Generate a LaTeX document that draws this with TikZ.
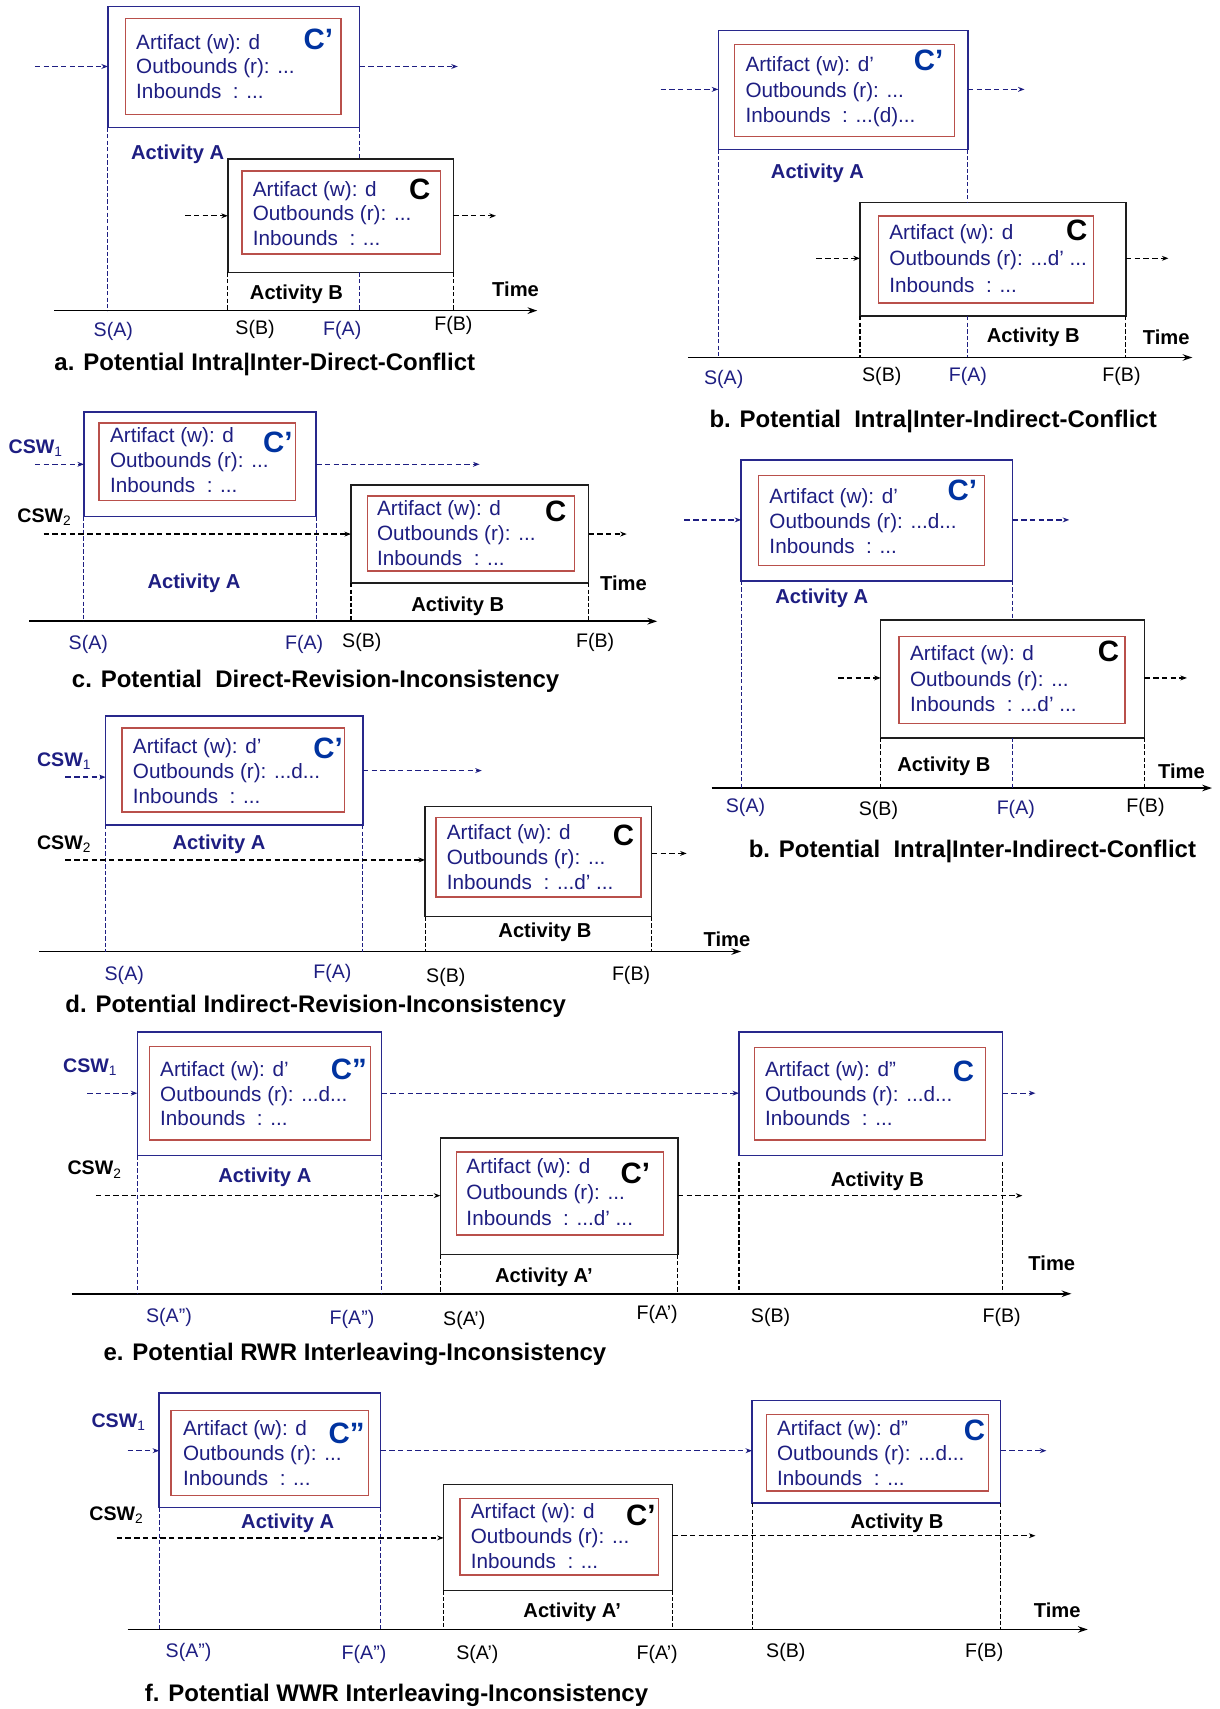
\documentclass[tikz,border=0pt]{standalone}
\usepackage{fontspec}
\setmainfont{Liberation Sans}
\usetikzlibrary{arrows.meta}
\definecolor{navy}{RGB}{30,30,130}
\definecolor{cblue}{RGB}{0,51,160}
\definecolor{boxblue}{RGB}{40,40,140}
\definecolor{boxred}{RGB}{185,80,75}
\definecolor{boxgray}{RGB}{30,30,30}
\newcommand\bx[6]{\node[#6, anchor=north west, minimum width=#4-#2, minimum height=#5-#3] (#1) at (#2,#3) {};}
\newcommand\arttxt[7]{%
  \node[arttext, anchor=base west] (#1-1) at (#2,{#3+7}) {#5};
  \node[arttext, anchor=base west] (#1-2) at (#2,{#3+#4+7}) {#6};
  \node[arttext, anchor=base west] (#1-3) at (#2,{#3+2*#4+7}) {#7};}
\newcommand\lab[5]{\node[#2, anchor=base] (#1) at (#3,{#4+7}) {#5};}
\newcommand\lft[5]{\node[#2, anchor=base west] (#1) at (#3,{#4+7}) {#5};}
\tikzset{
  every node/.style={inner sep=0pt, outer sep=0pt},
  boxA/.style={draw=boxblue, line width=1.3pt, fill=white},
  boxB/.style={draw=boxgray, line width=1.3pt, fill=white},
  redbox/.style={draw=boxred, line width=1.3pt},
  arttext/.style={text=navy, font=\fontsize{19}{23}\selectfont},
  cbig/.style={font=\bfseries\fontsize{27}{30}\selectfont},
  actA/.style={text=navy, font=\bfseries\fontsize{18.5}{22}\selectfont},
  actB/.style={text=black, font=\bfseries\fontsize{18.5}{22}\selectfont},
  axA/.style={text=navy, font=\fontsize{18}{22}\selectfont},
  axB/.style={text=black, font=\fontsize{18}{22}\selectfont},
  caption/.style={text=black, font=\bfseries\fontsize{22}{26}\selectfont},
  cswA/.style={text=navy, font=\bfseries\fontsize{18}{22}\selectfont},
  cswB/.style={text=black, font=\bfseries\fontsize{18}{22}\selectfont},
  arrA/.style={draw=navy, line width=1.2pt, dash pattern=on 5pt off 3pt, -{Stealth[length=6pt,width=4.5pt]}},
  arrB/.style={draw=black, line width=1.2pt, dash pattern=on 5pt off 3pt, -{Stealth[length=6pt,width=4.5pt]}},
  vA/.style={draw=navy, line width=1pt, dash pattern=on 4pt off 2pt},
  vB/.style={draw=black, line width=1pt, dash pattern=on 4pt off 2pt},
  timeaxis/.style={draw=black, line width=1.5pt, -{Stealth[length=9pt,width=6pt]}},
}
\newcommand\sub[1]{\textsubscript{\mdseries #1}}
\begin{document}
\begin{tikzpicture}[x=1pt,y=-1pt]
\useasboundingbox[fill=white] (0,0) rectangle (1119,1568);

% ================= panel a =================
\coordinate (ax0) at (50,285); \coordinate (ax1) at (493,285);
\draw[timeaxis] (ax0) -- (ax1);
\bx{aA}{99}{6}{330}{117}{boxA}
\bx{aAr}{115}{17}{313}{105}{redbox}
\arttxt{aAt}{125}{38}{22.5}{Artifact (w): d}{Outbounds (r): ...}{Inbounds\ \ : ...}
\node[cbig, text=cblue] (aAc) at (292,36) {C’};
\bx{aB}{209}{146}{416}{250}{boxB}
\bx{aBr}{222}{157}{404}{233}{redbox}
\arttxt{aBt}{232}{173}{22.5}{Artifact (w): d}{Outbounds (r): ...}{Inbounds\ \ : ...}
\node[cbig, text=black] (aBc) at (385,174) {C};
\coordinate (aa1) at (32,61); \coordinate (aa2) at (420,61);
\coordinate (ab1) at (170,198); \coordinate (ab2) at (455,198);
\draw[arrA] (aa1) -- (aa1 -| aA.west);
\draw[arrA] (aa2 -| aA.east) -- (aa2);
\draw[arrB] (ab1) -- (ab1 -| aB.west);
\draw[arrB] (ab2 -| aB.east) -- (ab2);
\draw[vA] (aA.south west) -- (aA.south west |- ax0);
\draw[vA] (aA.south east) -- (aA.south east |- aB.north);
\draw[vA] (aA.south east |- aB.south) -- (aA.south east |- ax0);
\draw[vB] (aB.south west) -- (aB.south west |- ax0);
\draw[vB] (aB.south east) -- (aB.south east |- ax0);
\lab{aActA}{actA}{163}{139}{Activity A}
\lab{aActB}{actB}{272}{268}{Activity B}
\lab{aTime}{actB}{473}{265}{Time}
\lab{aSA}{axA}{104}{302}{S(A)}
\lab{aSB}{axB}{234}{300}{S(B)}
\lab{aFA}{axA}{314}{301}{F(A)}
\lab{aFB}{axB}{416}{296}{F(B)}
\lft{aCap}{caption}{50}{333}{a. Potential Intra|Inter-Direct-Conflict}

% ================= panel b =================
\coordinate (bx0) at (631,328); \coordinate (bx1) at (1094,328);
\draw[timeaxis] (bx0) -- (bx1);
\bx{bA}{659}{28}{888}{137}{boxA}
\bx{bAr}{674}{41}{876}{125}{redbox}
\arttxt{bAt}{684}{59}{23}{Artifact (w): d’}{Outbounds (r): ...}{Inbounds\ \ : ...(d)...}
\node[cbig, text=cblue] (bAc) at (852,55) {C’};
\bx{bB}{789}{186}{1033}{290}{boxB}
\bx{bBr}{806}{198}{1003}{278}{redbox}
\arttxt{bBt}{816}{213}{24}{Artifact (w): d}{Outbounds (r): ...d’ ...}{Inbounds\ \ : ...}
\node[cbig, text=black] (bBc) at (988,211) {C};
\coordinate (ba1) at (606,82); \coordinate (ba2) at (940,82);
\coordinate (bb1) at (749,237); \coordinate (bb2) at (1072,237);
\draw[arrA] (ba1) -- (ba1 -| bA.west);
\draw[arrA] (ba2 -| bA.east) -- (ba2);
\draw[arrB] (bb1) -- (bb1 -| bB.west);
\draw[arrB] (bb2 -| bB.east) -- (bb2);
\draw[vA] (bA.south west) -- (bA.south west |- bx0);
\draw[vA] (bA.south east) -- (bA.south east |- bB.north);
\draw[vA] (bA.south east |- bB.south) -- (bA.south east |- bx0);
\draw[vB] (bB.south west) -- (bB.south west |- bx0);
\draw[vB] (bB.south east) -- (bB.south east |- bx0);
\lab{bActA}{actA}{750}{157}{Activity A}
\lab{bActB}{actB}{948}{307}{Activity B}
\lab{bTime}{actB}{1070}{309}{Time}
\lab{bSA}{axA}{664}{346}{S(A)}
\lab{bSB}{axB}{809}{343}{S(B)}
\lab{bFA}{axA}{888}{343}{F(A)}
\lab{bFB}{axB}{1029}{343}{F(B)}
\lft{bCap}{caption}{651}{385}{b. Potential\ \ Intra|Inter-Indirect-Conflict}

% ================= panel c =================
\coordinate (cx0) at (27,570); \coordinate (cx1) at (603,570);
\draw[timeaxis] (cx0) -- (cx1);
\coordinate (ca1) at (32,426); \coordinate (ca2) at (440,426);
\coordinate (cb1) at (40,490); \coordinate (cb2) at (575,490);
\bx{cA}{77}{378}{290}{474}{boxA}
\draw[vA] (cA.south west) -- (cA.south west |- cx0);
\draw[vA] (cA.south east) -- (cA.south east |- cx0);
\bx{cAr}{91}{388}{271}{459}{redbox}
\arttxt{cAt}{101}{399}{23}{Artifact (w): d}{Outbounds (r): ...}{Inbounds\ \ : ...}
\node[cbig, text=cblue] (cAc) at (255,406) {C’};
\bx{cB}{322}{445}{540}{535}{boxB}
\bx{cBr}{337}{455}{527}{524}{redbox}
\arttxt{cBt}{346}{466}{23}{Artifact (w): d}{Outbounds (r): ...}{Inbounds\ \ : ...}
\node[cbig, text=black] (cBc) at (510,469) {C};
\draw[arrA] (ca1) -- (ca1 -| cA.west);
\draw[arrA] (ca2 -| cA.east) -- (ca2);
\draw[arrB] (cb1) -- (cb1 -| cB.west);
\draw[arrB] (cb2 -| cB.east) -- (cb2);
\draw[vB] (cB.south west) -- (cB.south west |- cx0);
\draw[vB] (cB.south east) -- (cB.south east |- cx0);
\lft{cCsw1}{cswA}{8}{409}{CSW\sub{1}}
\lft{cCsw2}{cswB}{16}{472}{CSW\sub{2}}
\lab{cActA}{actA}{178}{533}{Activity A}
\lab{cActB}{actB}{420}{554}{Activity B}
\lab{cTime}{actB}{572}{535}{Time}
\lab{cSA}{axA}{81}{589}{S(A)}
\lab{cFA}{axA}{279}{589}{F(A)}
\lab{cSB}{axB}{332}{587}{S(B)}
\lab{cFB}{axB}{546}{587}{F(B)}
\lft{cCap}{caption}{66}{624}{c. Potential\ \ Direct-Revision-Inconsistency}

% ================= panel b (second) =================
\coordinate (gx0) at (653,723); \coordinate (gx1) at (1112,723);
\draw[timeaxis] (gx0) -- (gx1);
\bx{gA}{680}{422}{929}{533}{boxA}
\bx{gAr}{696}{436}{903}{519}{redbox}
\arttxt{gAt}{706}{455}{23}{Artifact (w): d’}{Outbounds (r): ...d...}{Inbounds\ \ : ...}
\node[cbig, text=cblue] (gAc) at (883,450) {C’};
\bx{gB}{808}{569}{1050}{677}{boxB}
\bx{gBr}{825}{584}{1032}{664}{redbox}
\arttxt{gBt}{835}{599}{23.5}{Artifact (w): d}{Outbounds (r): ...}{Inbounds\ \ : ...d’ ...}
\node[cbig, text=black] (gBc) at (1017,598) {C};
\coordinate (ga1) at (628,477); \coordinate (ga2) at (981,477);
\coordinate (gb1) at (769,622); \coordinate (gb2) at (1089,622);
\draw[arrA] (ga1) -- (ga1 -| gA.west);
\draw[arrA] (ga2 -| gA.east) -- (ga2);
\draw[arrB] (gb1) -- (gb1 -| gB.west);
\draw[arrB] (gb2 -| gB.east) -- (gb2);
\draw[vA] (gA.south west) -- (gA.south west |- gx0);
\draw[vA] (gA.south east) -- (gA.south east |- gB.north);
\draw[vA] (gA.south east |- gB.south) -- (gA.south east |- gx0);
\draw[vB] (gB.south west) -- (gB.south west |- gx0);
\draw[vB] (gB.south east) -- (gB.south east |- gx0);
\lab{gActA}{actA}{754}{547}{Activity A}
\lab{gActB}{actB}{866}{701}{Activity B}
\lab{gTime}{actB}{1084}{707}{Time}
\lab{gSA}{axA}{684}{738}{S(A)}
\lab{gSB}{axB}{806}{741}{S(B)}
\lab{gFA}{axA}{932}{740}{F(A)}
\lab{gFB}{axB}{1051}{738}{F(B)}
\lft{gCap}{caption}{687}{780}{b. Potential\ \ Intra|Inter-Indirect-Conflict}

% ================= panel d =================
\coordinate (dx0) at (36,873); \coordinate (dx1) at (680,873);
\draw[timeaxis] (dx0) -- (dx1);
\coordinate (da1) at (60,713); \coordinate (da2) at (442,707);
\coordinate (db1) at (60,789); \coordinate (db2) at (630,783);
\bx{dA}{97}{657}{333}{757}{boxA}
\draw[vA] (dA.south west) -- (dA.south west |- dx0);
\draw[vA] (dA.south east) -- (dA.south east |- dx0);
\bx{dAr}{112}{668}{316}{745}{redbox}
\arttxt{dAt}{122}{684}{23}{Artifact (w): d’}{Outbounds (r): ...d...}{Inbounds\ \ : ...}
\node[cbig, text=cblue] (dAc) at (301,687) {C’};
\bx{dB}{390}{740}{598}{841}{boxB}
\bx{dBr}{400}{750}{588}{823}{redbox}
\arttxt{dBt}{410}{763}{23}{Artifact (w): d}{Outbounds (r): ...}{Inbounds\ \ : ...d’ ...}
\node[cbig, text=black] (dBc) at (572,766) {C};
\draw[arrA] (da1) -- (da1 -| dA.west);
\draw[arrA] (da2 -| dA.east) -- (da2);
\draw[arrB] (db1) -- (db1 -| dB.west);
\draw[arrB] (db2 -| dB.east) -- (db2);
\draw[vB] (dB.south west) -- (dB.south west |- dx0);
\draw[vB] (dB.south east) -- (dB.south east |- dx0);
\lft{dCsw1}{cswA}{34}{696}{CSW\sub{1}}
\lft{dCsw2}{cswB}{34}{772}{CSW\sub{2}}
\lab{dActA}{actA}{201}{772}{Activity A}
\lab{dActB}{actB}{500}{853}{Activity B}
\lab{dTime}{actB}{667}{861}{Time}
\lab{dSA}{axA}{114}{893}{S(A)}
\lab{dFA}{axA}{305}{891}{F(A)}
\lab{dSB}{axB}{409}{894}{S(B)}
\lab{dFB}{axB}{579}{893}{F(B)}
\lft{dCap}{caption}{60}{922}{d. Potential Indirect-Revision-Inconsistency}

% ================= panel e =================
\coordinate (ex0) at (66,1187); \coordinate (ex1) at (983,1187);
\draw[timeaxis] (ex0) -- (ex1);
\coordinate (ea1) at (80,1003); \coordinate (ea2) at (950,1003);
\coordinate (eb1) at (88,1097); \coordinate (eb2) at (938,1097);
\bx{eA}{126}{947}{350}{1060}{boxA}
\draw[vA] (eA.south west) -- (eA.south west |- ex0);
\draw[vA] (eA.south east) -- (eA.south east |- ex0);
\bx{eAr}{137}{960}{340}{1046}{redbox}
\arttxt{eAt}{147}{981}{22.5}{Artifact (w): d’}{Outbounds (r): ...d...}{Inbounds\ \ : ...}
\node[cbig, text=cblue] (eAc) at (320,981) {C”};
\bx{eB}{678}{947}{920}{1060}{boxA}
\coordinate (eSB) at (678,1066); \coordinate (eFB) at (920,1066);
\draw[vB] (eSB) -- (eSB |- ex0);
\draw[vB] (eFB) -- (eFB |- ex0);
\bx{eBr}{692}{961}{904}{1046}{redbox}
\arttxt{eBt}{702}{981}{22.5}{Artifact (w): d”}{Outbounds (r): ...d...}{Inbounds\ \ : ...}
\node[cbig, text=cblue] (eBc) at (884,983) {C};
\bx{eP}{404}{1044}{622}{1151}{boxB}
\bx{ePr}{419}{1057}{609}{1133}{redbox}
\arttxt{ePt}{428}{1070}{23.5}{Artifact (w): d}{Outbounds (r): ...}{Inbounds\ \ : ...d’ ...}
\node[cbig, text=black] (ePc) at (583,1077) {C’};
\draw[arrA] (ea1) -- (ea1 -| eA.west);
\draw[arrA] (ea1 -| eA.east) -- (ea1 -| eB.west);
\draw[arrA] (ea2 -| eB.east) -- (ea2);
\draw[arrB] (eb1) -- (eb1 -| eP.west);
\draw[arrB] (eb2 -| eP.east) -- (eb2);
\draw[vB] (eP.south west) -- (eP.south west |- ex0);
\draw[vB] (eP.south east) -- (eP.south east |- ex0);
\lft{eCsw1}{cswA}{58}{977}{CSW\sub{1}}
\lft{eCsw2}{cswB}{62}{1071}{CSW\sub{2}}
\lab{eActA}{actA}{243}{1078}{Activity A}
\lab{eActP}{actB}{499}{1170}{Activity A’}
\lab{eActB}{actB}{805}{1082}{Activity B}
\lab{eTime}{actB}{965}{1159}{Time}
\lab{eSA}{axA}{155}{1206}{S(A”)}
\lab{eFA}{axA}{323}{1208}{F(A”)}
\lab{eSP}{axB}{426}{1209}{S(A’)}
\lab{eFP}{axB}{603}{1204}{F(A’)}
\lab{eSB2}{axB}{707}{1206}{S(B)}
\lab{eFB2}{axB}{919}{1206}{F(B)}
\lft{eCap}{caption}{95}{1241}{e. Potential RWR Interleaving-Inconsistency}

% ================= panel f =================
\coordinate (fx0) at (117,1495); \coordinate (fx1) at (998,1495);
\draw[timeaxis] (fx0) -- (fx1);
\coordinate (fa1) at (117,1331); \coordinate (fa2) at (960,1331);
\coordinate (fb1) at (107,1411); \coordinate (fb2) at (950,1409);
\bx{fA}{146}{1278}{349}{1383}{boxA}
\draw[vA] (fA.south west) -- (fA.south west |- fx0);
\draw[vA] (fA.south east) -- (fA.south east |- fx0);
\bx{fAr}{157}{1294}{338}{1372}{redbox}
\arttxt{fAt}{168}{1310}{23}{Artifact (w): d}{Outbounds (r): ...}{Inbounds\ \ : ...}
\node[cbig, text=cblue] (fAc) at (318,1315) {C”};
\bx{fB}{690}{1285}{918}{1379}{boxA}
\draw[vB] (fB.south west) -- (fB.south west |- fx0);
\draw[vB] (fB.south east) -- (fB.south east |- fx0);
\bx{fBr}{703}{1298}{907}{1368}{redbox}
\arttxt{fBt}{713}{1310}{23}{Artifact (w): d”}{Outbounds (r): ...d...}{Inbounds\ \ : ...}
\node[cbig, text=cblue] (fBc) at (894,1312) {C};
\bx{fP}{407}{1362}{617}{1459}{boxB}
\bx{fPr}{422}{1375}{604}{1445}{redbox}
\arttxt{fPt}{432}{1386}{23}{Artifact (w): d}{Outbounds (r): ...}{Inbounds\ \ : ...}
\node[cbig, text=black] (fPc) at (588,1390) {C’};
\draw[arrA] (fa1) -- (fa1 -| fA.west);
\draw[arrA] (fa1 -| fA.east) -- (fa1 -| fB.west);
\draw[arrA] (fa2 -| fB.east) -- (fa2);
\draw[arrB] (fb1) -- (fb1 -| fP.west);
\draw[arrB] (fb2 -| fP.east) -- (fb2);
\draw[vB] (fP.south west) -- (fP.south west |- fx0);
\draw[vB] (fP.south east) -- (fP.south east |- fx0);
\lft{fCsw1}{cswA}{84}{1303}{CSW\sub{1}}
\lft{fCsw2}{cswB}{82}{1388}{CSW\sub{2}}
\lab{fActA}{actA}{264}{1395}{Activity A}
\lab{fActP}{actB}{525}{1477}{Activity A’}
\lab{fActB}{actB}{823}{1395}{Activity B}
\lab{fTime}{actB}{970}{1477}{Time}
\lab{fSA}{axA}{173}{1514}{S(A”)}
\lab{fFA}{axA}{334}{1516}{F(A”)}
\lab{fSP}{axB}{438}{1516}{S(A’)}
\lab{fFP}{axB}{603}{1516}{F(A’)}
\lab{fSB2}{axB}{721}{1514}{S(B)}
\lab{fFB2}{axB}{903}{1514}{F(B)}
\lft{fCap}{caption}{133}{1554}{f. Potential WWR Interleaving-Inconsistency}
\end{tikzpicture}
\end{document}
